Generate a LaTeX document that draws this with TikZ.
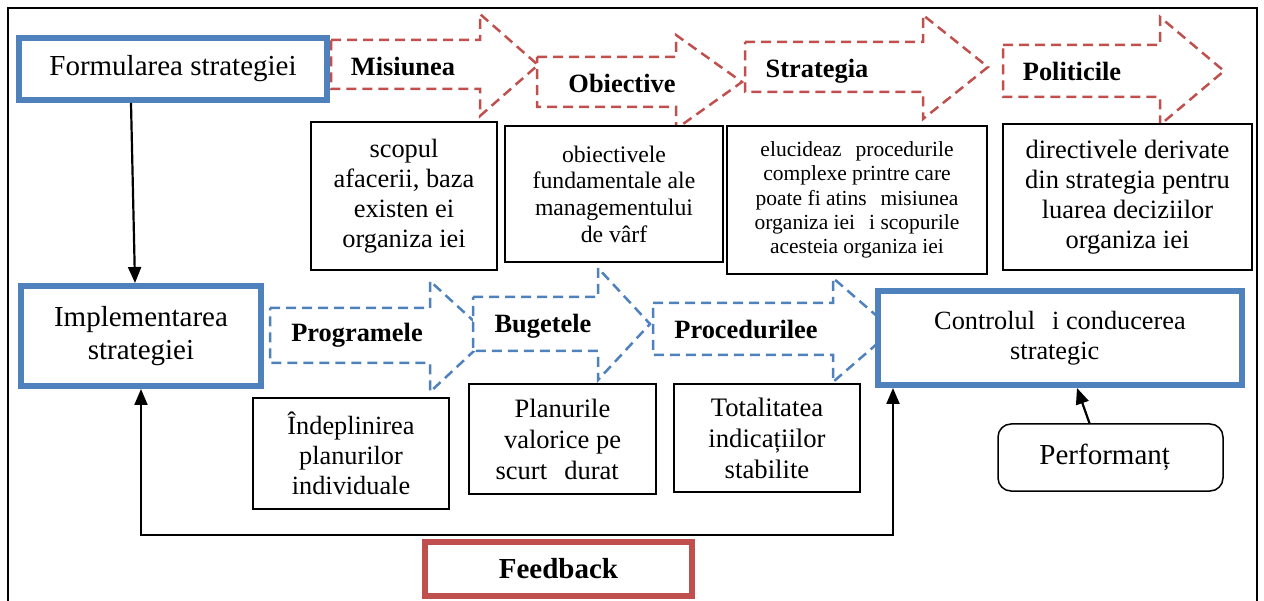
\documentclass[tikz,border=0pt]{standalone}
\usepackage{fontspec}
\setmainfont{Liberation Serif}
\usetikzlibrary{arrows.meta}
\definecolor{accblue}{HTML}{4F81BD}
\definecolor{accred}{HTML}{C0504D}
% blank left by a glyph the original font could not show
\newcommand\miss{\hspace*{0.4em}}
\begin{document}
\begin{tikzpicture}[x=1pt,y=-1pt,
  stratbox/.style={draw=accblue,line width=6pt,fill=white,inner sep=0pt,align=center},
  fbbox/.style={draw=accred,line width=6pt,fill=white,inner sep=0pt,align=center},
  infobox/.style={draw=black,line width=2pt,fill=white,inner sep=0pt,align=center},
  redarrow/.style={draw=accred,line width=2.5pt,dash pattern=on 10pt off 6pt,fill=white},
  bluearrow/.style={draw=accblue,line width=2.5pt,dash pattern=on 10pt off 6pt,fill=white},
  steplabel/.style={font=\fontsize{26.4}{30}\selectfont\bfseries,anchor=base,inner sep=0pt},
  conn/.style={draw=black,line width=2.2pt,-{Triangle[length=16pt,width=13pt]}},
  twoway/.style={draw=black,line width=2.2pt,{Triangle[length=16pt,width=13pt]}-{Triangle[length=16pt,width=13pt]}},
]
\useasboundingbox (0,0) rectangle (1264,601);

% outer frame (open at the bottom)
\draw[line width=2pt] (8,620) -- (8,8) -- (1257,8) -- (1257,620);

% red block arrows: formulation steps
\draw[redarrow] (331,40) -- (480,40) -- (480,14) -- (538,65) -- (480,116) -- (480,89) -- (331,89) -- cycle;
\draw[redarrow] (537,57) -- (676,57) -- (676,35) -- (742,82) -- (676,129) -- (676,107) -- (537,107) -- cycle;
\draw[redarrow] (745,42) -- (923,42) -- (923,15) -- (988,67) -- (923,119) -- (923,92) -- (745,92) -- cycle;
\draw[redarrow] (1003,45) -- (1160,45) -- (1160,17) -- (1224,71) -- (1160,125) -- (1160,97) -- (1003,97) -- cycle;

% blue block arrows: implementation steps
\draw[bluearrow] (270,308) -- (430,308) -- (430,281) -- (490,336) -- (430,392) -- (430,363) -- (270,363) -- cycle;
\draw[bluearrow] (473,297) -- (598,297) -- (598,268) -- (650,324) -- (598,380) -- (598,351) -- (473,351) -- cycle;
\draw[bluearrow] (653,303) -- (833,303) -- (833,278) -- (893,330) -- (833,382) -- (833,355) -- (653,355) -- cycle;

% description boxes, top row
\node[infobox,minimum width=186pt,minimum height=148pt,font=\fontsize{26.4}{30}\selectfont] (scop) at (404,196)
  {scopul\\afacerii, baza\\existen ei\\organiza iei};
\node[infobox,minimum width=218pt,minimum height=136pt,font=\fontsize{23.7}{26.7}\selectfont] (obj) at (614,194)
  {obiectivele\\fundamentale ale\\managementului\\de vârf};
\node[infobox,minimum width=260pt,minimum height=148pt,font=\fontsize{21.5}{24.4}\selectfont] (eluc) at (857,200)
  {elucideaz\miss{} procedurile\\complexe printre care\\poate fi atins\miss{} misiunea\\organiza iei\miss{} i scopurile\\acesteia organiza iei};
\node[infobox,minimum width=249pt,minimum height=146pt,font=\fontsize{26.5}{30}\selectfont] (pol) at (1127.5,197)
  {directivele derivate\\din strategia pentru\\luarea deciziilor\\organiza iei};

% description boxes, bottom row
\node[infobox,minimum width=196pt,minimum height=111pt,font=\fontsize{26.3}{30}\selectfont] (indep) at (351,453.5)
  {Îndeplinirea\\planurilor\\individuale};
\node[infobox,minimum width=187pt,minimum height=110pt,font=\fontsize{26.5}{31}\selectfont] (plan) at (562.5,439)
  {Planurile\\valorice pe\\scurt\miss{} durat\miss};
\node[infobox,minimum width=186pt,minimum height=108pt,font=\fontsize{26.7}{31}\selectfont] (total) at (767,438)
  {Totalitatea\\indicațiilor\\stabilite};
\node[draw=black,line width=1.5pt,rounded corners=13pt,fill=white,inner sep=0pt,
      minimum width=225pt,minimum height=67pt,font=\fontsize{29}{33}\selectfont] (perf) at (1110.5,457.5)
  {Performanț\miss};

% main stages
\node[stratbox,minimum width=308pt,minimum height=62pt,font=\fontsize{29}{33}\selectfont] (form) at (173,69)
  {Formularea strategiei};
\node[stratbox,minimum width=240pt,minimum height=100pt,font=\fontsize{29}{33}\selectfont] (impl) at (141,336)
  {Implementarea\\strategiei};
\node[stratbox,minimum width=364pt,minimum height=94pt,font=\fontsize{26.3}{30}\selectfont] (ctrl) at (1060,338)
  {Controlul\miss{} i conducerea\\strategic\miss};
\node[fbbox,minimum width=267pt,minimum height=54pt,font=\fontsize{29}{33}\selectfont\bfseries] (fb) at (558.5,569)
  {Feedback};

% step labels on the block arrows
\node[steplabel] (lmis) at (403,76) {Misiunea};
\node[steplabel] (lobj) at (622,92.5) {Obiective};
\node[steplabel] (lstr) at (817,78) {Strategia};
\node[steplabel] (lpol) at (1072,81) {Politicile};
\node[steplabel] (lprog) at (357,342) {Programele};
\node[steplabel] (lbug) at (543,333) {Bugetele};
\node[steplabel] (lproc) at (746,339) {Procedurilee};

% connectors
\draw[conn] ([xshift=-42pt]form.south) -- ([xshift=-6pt]impl.north);
\draw[conn] ([xshift=-21pt]perf.north) -- ([xshift=17pt]ctrl.south);
\coordinate (fbline) at (0,535);
\coordinate (fbR) at ([xshift=-167pt]ctrl.south);
\draw[twoway] (impl.south) |- (fbR |- fbline) -- (fbR);
\end{tikzpicture}
\end{document}
